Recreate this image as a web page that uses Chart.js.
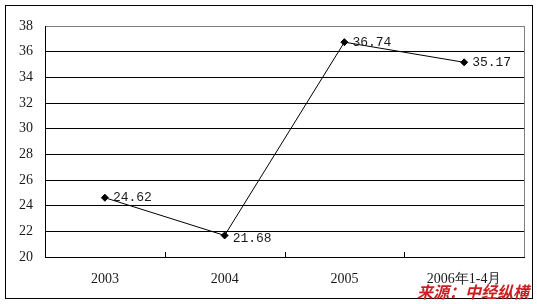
<!DOCTYPE html>
<html><head><meta charset="utf-8">
<script src="https://cdn.jsdelivr.net/npm/chart.js@4/dist/chart.umd.min.js"></script>
<style>html,body{margin:0;padding:0;background:#fff;}#wrap{position:relative;width:537px;height:304px;}</style>
</head><body><div id="wrap"><canvas id="c" width="537" height="304"></canvas></div>
<script>
const categories = ['2003', '2004', '2005', '2006年1-4月'];
const values = [24.62, 21.68, 36.74, 35.17];
const yTicks = [20, 22, 24, 26, 28, 30, 32, 34, 36, 38];
const sourceText = '来源：中经纵横';

const decor = {
  id: 'decor',
  beforeDraw(chart) {
    const ctx = chart.ctx;
    ctx.save();
    ctx.fillStyle = '#fff';
    ctx.fillRect(0, 0, chart.width, chart.height);
    ctx.strokeStyle = '#000';
    ctx.lineWidth = 1;
    ctx.strokeRect(5.5, 5.5, 527, 293);
    ctx.restore();
  },
  afterDatasetsDraw(chart) {
    const ctx = chart.ctx;
    const a = chart.chartArea;
    const xs = chart.scales.x;
    ctx.save();
    // plot border
    ctx.lineWidth = 1;
    ctx.strokeStyle = '#808080';
    ctx.beginPath();
    ctx.moveTo(a.left, Math.round(a.top) + 0.5); ctx.lineTo(a.right, Math.round(a.top) + 0.5);
    ctx.moveTo(Math.round(a.right) + 0.5, a.top); ctx.lineTo(Math.round(a.right) + 0.5, a.bottom);
    ctx.stroke();
    ctx.strokeStyle = '#000';
    ctx.beginPath();
    ctx.moveTo(Math.round(a.left) + 0.5, a.top); ctx.lineTo(Math.round(a.left) + 0.5, a.bottom);
    ctx.moveTo(a.left, Math.round(a.bottom) + 0.5); ctx.lineTo(a.right + 1, Math.round(a.bottom) + 0.5);
    // category boundary tick marks
    for (let i = 0; i < categories.length - 1; i++) {
      const x = Math.round((xs.getPixelForValue(i) + xs.getPixelForValue(i + 1)) / 2) + 0.5;
      ctx.moveTo(x, a.bottom); ctx.lineTo(x, a.bottom - 5);
    }
    ctx.stroke();
    // data labels
    const meta = chart.getDatasetMeta(0);
    ctx.fillStyle = '#1a1a1a';
    ctx.font = '13px "Liberation Mono", monospace';
    ctx.textBaseline = 'middle';
    ctx.textAlign = 'left';
    meta.data.forEach((pt, i) => {
      const dy = i === 1 ? 3 : 0;
      ctx.fillText(values[i].toFixed(2), pt.x + 8, pt.y + dy);
    });
    // source
    ctx.fillStyle = '#cc2020';
    ctx.font = 'italic bold 16px "Noto Sans CJK SC", sans-serif';
    ctx.textAlign = 'right';
    ctx.textBaseline = 'alphabetic';
    ctx.fillText(sourceText, 529, 298);
    ctx.restore();
  }
};

new Chart(document.getElementById('c'), {
  type: 'line',
  data: {
    labels: categories,
    datasets: [{
      data: values,
      borderColor: '#000',
      borderWidth: 1,
      pointStyle: 'rectRot',
      pointRadius: 3.5,
      pointBackgroundColor: '#000',
      pointBorderColor: '#000',
      tension: 0
    }]
  },
  options: {
    responsive: false,
    animation: false,
    devicePixelRatio: 1,
    layout: { padding: { left: 0, top: 26, right: 13, bottom: 0 } },
    plugins: { legend: { display: false }, tooltip: { enabled: false } },
    scales: {
      x: {
        offset: true,
        grid: { display: false, drawTicks: false },
        border: { display: false },
        ticks: { color: '#1a1a1a', font: { family: '"Liberation Serif", serif', size: 14 }, padding: 14, maxRotation: 0, autoSkip: false },
        afterFit(s) { s.height = 47; }
      },
      y: {
        min: 20, max: 38,
        afterBuildTicks(s) { s.ticks = yTicks.map(v => ({ value: v })); },
        grid: { color: ctx => (ctx.tick && ctx.tick.value === 38 ? '#808080' : '#000'), drawTicks: false, lineWidth: 1 },
        border: { display: false },
        ticks: { color: '#1a1a1a', font: { family: '"Liberation Serif", serif', size: 14 }, padding: 12 },
        afterFit(s) { s.width = 45; }
      }
    }
  },
  plugins: [decor]
});
</script></body></html>
